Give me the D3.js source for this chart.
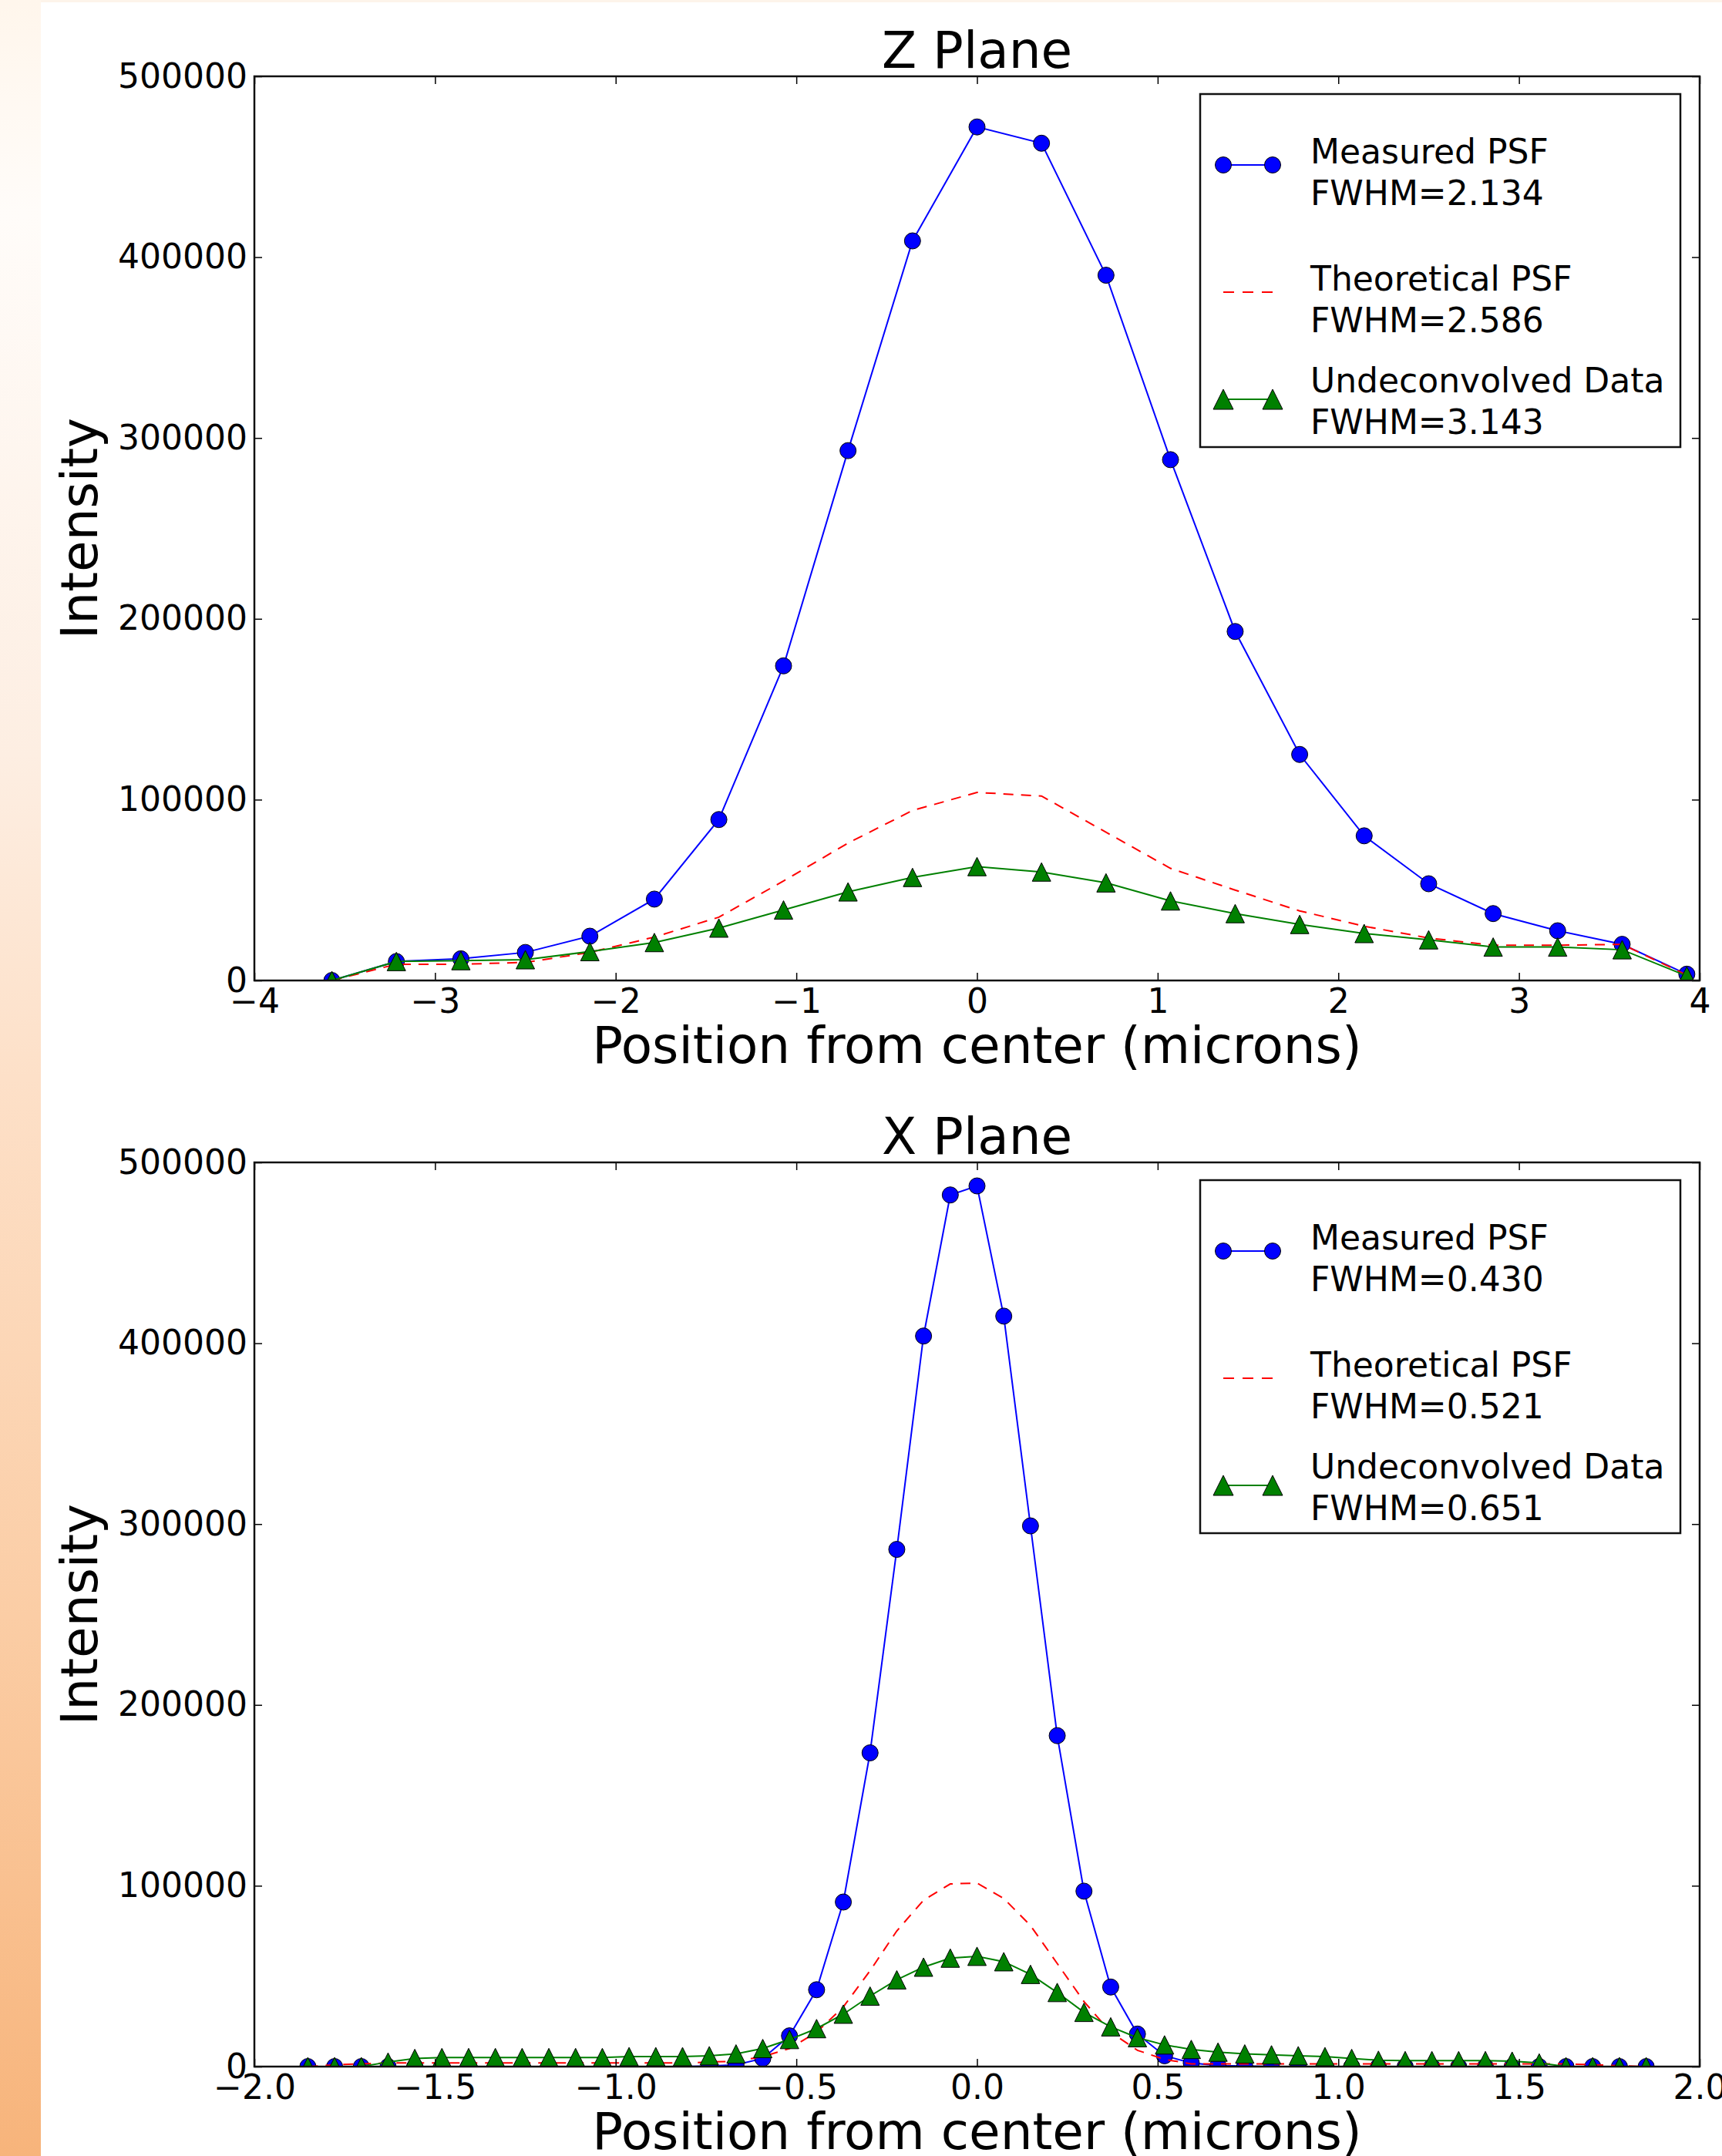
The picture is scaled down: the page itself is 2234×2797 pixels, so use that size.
<!DOCTYPE html>
<html>
<head>
<meta charset="utf-8">
<script src="https://cdn.jsdelivr.net/npm/d3@7"></script>
<style>
  body { margin: 0; background: #fff; }
  svg { display: block; }
  text { font-family: "DejaVu Sans", sans-serif; fill: #000; }
</style>
</head>
<body>
<div id="chart"></div>
<script>
// Z plane data (microns, intensity)
const zPositions = [-3.571, -3.214, -2.857, -2.500, -2.143, -1.786, -1.429, -1.071, -0.714, -0.357, 0,
    0.357, 0.714, 1.071, 1.429, 1.786, 2.143, 2.500, 2.857, 3.214, 3.571, 3.929];
const zMeasured = [0, 10500, 12000, 15500, 24500, 45000, 89000, 174000, 293000, 409000, 472000,
    463000, 390000, 288000, 193000, 125000, 80000, 53500, 37000, 27500, 20000, 3500];
const zTheoretical = [0, 9000, 9000, 10000, 15500, 24000, 35000, 55000, 76000, 94000, 104000,
    102000, 82000, 62000, 50000, 38500, 30000, 23500, 19500, 19500, 20000, 3000];
const zUndeconvolved = [0, 10500, 11000, 11500, 16000, 21000, 29000, 39000, 49000, 57000, 63000,
    60000, 54000, 44000, 37000, 31000, 26000, 22500, 18500, 18500, 17000, 2500];

// X plane data
const xPositions = [-1.852, -1.778, -1.704, -1.630, -1.556, -1.481, -1.407, -1.333, -1.259, -1.185,
    -1.111, -1.037, -0.963, -0.889, -0.815, -0.741, -0.667, -0.593, -0.519, -0.444, -0.370, -0.296,
    -0.222, -0.148, -0.074, 0, 0.074, 0.148, 0.222, 0.296, 0.370, 0.444, 0.519, 0.593, 0.667, 0.741,
    0.815, 0.889, 0.963, 1.037, 1.111, 1.185, 1.259, 1.333, 1.407, 1.481, 1.556, 1.630, 1.704, 1.778, 1.852];
const xMeasured = [0, 0, 0, 0, 0, 0, 0, 0, 0, 0, 0, 0, 0, 0, 0, 300, 1000, 4500, 17000, 42500, 91000,
    173500, 286000, 404000, 482000, 487000, 415000, 299000, 183000, 97000, 44000, 18000, 6000, 2000,
    500, 300, 0, 0, 0, 0, 0, 0, 0, 0, 0, 0, 0, 0, 0, 0, 0];
const xTheoretical = [0, 1000, 1500, 2000, 2000, 2000, 2000, 2000, 2000, 2000, 2000, 2000, 2000, 2000,
    2000, 2500, 3000, 5500, 10000, 19000, 33000, 53000, 75000, 92000, 101000, 101500, 93000, 78000,
    57000, 36000, 19000, 9000, 4000, 1500, 1500, 1500, 1500, 1500, 1500, 1500, 1500, 1500, 1500, 1500,
    1500, 1500, 1500, 1500, 1000, 500, 0];
const xUndeconvolved = [0, 0, 0, 2500, 4500, 5000, 5000, 5000, 5000, 5000, 5000, 5000, 5500, 5500,
    5500, 6000, 7000, 10000, 15000, 21000, 29000, 39000, 48000, 55000, 60000, 61000, 58000, 51000,
    41000, 30000, 22000, 16000, 12000, 9500, 8000, 7000, 6500, 6000, 5500, 4500, 3500, 3300, 3300,
    3300, 3300, 3000, 2000, 0, 0, 0, 0];

const zTicks = [-4, -3, -2, -1, 0, 1, 2, 3, 4];
const xTicks = [-2.0, -1.5, -1.0, -0.5, 0.0, 0.5, 1.0, 1.5, 2.0];
const yTicks = [0, 100000, 200000, 300000, 400000, 500000];

const zLegend = ["Measured PSF\nFWHM=2.134", "Theoretical PSF\nFWHM=2.586", "Undeconvolved Data\nFWHM=3.143"];
const xLegend = ["Measured PSF\nFWHM=0.430", "Theoretical PSF\nFWHM=0.521", "Undeconvolved Data\nFWHM=0.651"];

const width = 2234;
const height = 2797;
const plotLeft = 330, plotRight = 2205, plotHeight = 1173;

const svg = d3.select("#chart").append("svg")
    .attr("width", width)
    .attr("height", height);

// orange strip on the left edge
const defs = svg.append("defs");
const grad = defs.append("linearGradient")
    .attr("id", "strip")
    .attr("x1", 0).attr("y1", 0).attr("x2", 0).attr("y2", 1);
[[0, "#fff6ec"], [0.1, "#fffcf9"], [0.35, "#fdeee2"], [0.5, "#fde0c8"], [0.75, "#fbcda5"], [1, "#f7b47b"]]
    .forEach(s => grad.append("stop").attr("offset", s[0]).attr("stop-color", s[1]));

svg.append("rect").attr("width", width).attr("height", height).attr("fill", "#fff");
svg.append("rect").attr("width", width).attr("height", 3).attr("fill", "#fdf4ea");
svg.append("rect").attr("width", 53).attr("height", height).attr("fill", "url(#strip)");

const drawPanel = (cfg) => {
    const top = cfg.top;
    const bottom = top + plotHeight;

    const x = d3.scaleLinear().domain(cfg.xDomain).range([plotLeft, plotRight]);
    const y = d3.scaleLinear().domain([0, 500000]).range([bottom, top]);

    const g = svg.append("g");

    defs.append("clipPath").attr("id", cfg.id + "-clip")
        .append("rect")
        .attr("x", plotLeft).attr("y", top)
        .attr("width", plotRight - plotLeft).attr("height", plotHeight);

    const plot = g.append("g").attr("clip-path", `url(#${cfg.id}-clip)`);

    const line = d3.line()
        .x(d => x(d[0]))
        .y(d => y(d[1]));

    const series = [
        { values: cfg.measured, color: "#0000ff", marker: "circle" },
        { values: cfg.theoretical, color: "#ff0000", marker: "none", dash: "13,10" },
        { values: cfg.undeconvolved, color: "#008000", marker: "triangle" }
    ];

    series.forEach(s => {
        const pts = cfg.positions.map((p, i) => [p, s.values[i]]);
        plot.append("path")
            .datum(pts)
            .attr("d", line)
            .attr("fill", "none")
            .attr("stroke", s.color)
            .attr("stroke-width", 2)
            .attr("stroke-dasharray", s.dash || null);

        if (s.marker == "circle") {
            plot.selectAll(null)
                .data(pts)
                .enter()
                .append("circle")
                .attr("cx", d => x(d[0]))
                .attr("cy", d => y(d[1]))
                .attr("r", 10.5)
                .attr("fill", s.color)
                .attr("stroke", "#000")
                .attr("stroke-width", 1);
        } else if (s.marker == "triangle") {
            plot.selectAll(null)
                .data(pts)
                .enter()
                .append("path")
                .attr("d", "M0,-12L12,12L-12,12Z")
                .attr("transform", d => `translate(${x(d[0])},${y(d[1])})`)
                .attr("fill", s.color)
                .attr("stroke", "#000")
                .attr("stroke-width", 1);
        }
    });

    // axes, ticks pointing inward
    const styleAxis = (a) => {
        a.select(".domain").remove();
        a.selectAll(".tick line").attr("stroke", "#000").attr("stroke-width", 1.5);
        a.attr("font-size", 44).attr("font-family", "DejaVu Sans, sans-serif");
        a.selectAll(".tick text").attr("fill", "#000");
    };

    g.append("g")
        .attr("transform", `translate(0,${bottom})`)
        .call(d3.axisBottom(x).tickValues(cfg.xTicks).tickFormat(d3.format(cfg.xFormat))
            .tickSizeInner(-10).tickSizeOuter(0).tickPadding(11))
        .call(styleAxis);

    g.append("g")
        .attr("transform", `translate(0,${top})`)
        .call(d3.axisTop(x).tickValues(cfg.xTicks).tickFormat("")
            .tickSizeInner(-10).tickSizeOuter(0))
        .call(styleAxis);

    g.append("g")
        .attr("transform", `translate(${plotLeft},0)`)
        .call(d3.axisLeft(y).tickValues(yTicks).tickFormat(d3.format("d"))
            .tickSizeInner(-10).tickSizeOuter(0).tickPadding(9))
        .call(styleAxis);

    g.append("g")
        .attr("transform", `translate(${plotRight},0)`)
        .call(d3.axisRight(y).tickValues(yTicks).tickFormat("")
            .tickSizeInner(-10).tickSizeOuter(0))
        .call(styleAxis);

    // frame
    g.append("rect")
        .attr("x", plotLeft).attr("y", top)
        .attr("width", plotRight - plotLeft).attr("height", plotHeight)
        .attr("fill", "none")
        .attr("stroke", "#111")
        .attr("stroke-width", 2.5);

    // title and labels
    g.append("text")
        .attr("x", (plotLeft + plotRight) / 2)
        .attr("y", top - 11)
        .attr("text-anchor", "middle")
        .attr("font-size", 66)
        .text(cfg.title);

    g.append("text")
        .attr("x", (plotLeft + plotRight) / 2)
        .attr("y", bottom + 107)
        .attr("text-anchor", "middle")
        .attr("font-size", 66)
        .text("Position from center (microns)");

    g.append("text")
        .attr("transform", `translate(126,${(top + bottom) / 2}) rotate(-90)`)
        .attr("text-anchor", "middle")
        .attr("font-size", 66)
        .text("Intensity");

    // legend
    const legend = g.append("g").attr("transform", `translate(1557,${top + 23})`);
    legend.append("rect")
        .attr("width", 623).attr("height", 458)
        .attr("fill", "#fff")
        .attr("stroke", "#111")
        .attr("stroke-width", 2.5);

    const handleY = [92, 257, 396];
    const textY = [90, 255, 387];

    series.forEach((s, i) => {
        const item = legend.append("g").attr("transform", `translate(0,${handleY[i]})`);
        item.append("line")
            .attr("x1", 30).attr("x2", 94)
            .attr("stroke", s.color)
            .attr("stroke-width", 2)
            .attr("stroke-dasharray", s.dash ? "14,11" : null);
        [30, 94].forEach(hx => {
            if (s.marker == "circle") {
                item.append("circle").attr("cx", hx).attr("r", 10.5)
                    .attr("fill", s.color).attr("stroke", "#000").attr("stroke-width", 1);
            } else if (s.marker == "triangle") {
                item.append("path").attr("d", "M0,-13L13,13L-13,13Z")
                    .attr("transform", `translate(${hx},0)`)
                    .attr("fill", s.color).attr("stroke", "#000").attr("stroke-width", 1);
            }
        });

        const lines = cfg.legend[i].split("\n");
        const t = legend.append("text")
            .attr("font-size", 44)
            .attr("x", 143)
            .attr("y", textY[i]);
        lines.forEach((l, j) => {
            t.append("tspan").attr("x", 143).attr("dy", j == 0 ? 0 : 54).text(l);
        });
    });
};

drawPanel({
    id: "z", top: 99, title: "Z Plane",
    xDomain: [-4, 4], xTicks: zTicks, xFormat: "d",
    positions: zPositions, measured: zMeasured, theoretical: zTheoretical, undeconvolved: zUndeconvolved,
    legend: zLegend
});

drawPanel({
    id: "x", top: 1508, title: "X Plane",
    xDomain: [-2, 2], xTicks: xTicks, xFormat: ".1f",
    positions: xPositions, measured: xMeasured, theoretical: xTheoretical, undeconvolved: xUndeconvolved,
    legend: xLegend
});
</script>
</body>
</html>
